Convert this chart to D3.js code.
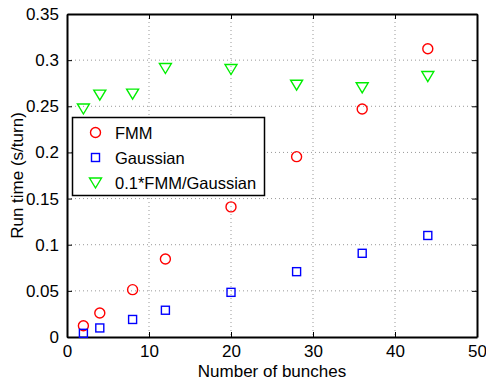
<!DOCTYPE html>
<html>
<head>
<meta charset="utf-8">
<script src="https://cdn.jsdelivr.net/npm/d3@7"></script>
<style>
  body { margin: 0; background: #fff; }
  svg text { font-family: "Liberation Sans", Arial, sans-serif; fill: #000; }
</style>
</head>
<body>
<div id="chart"></div>
<script>
const bunches = [2, 4, 8, 12, 20, 28, 36, 44];
const fmm = [0.0122, 0.026, 0.0513, 0.0845, 0.141, 0.1954, 0.247, 0.3124];
const gaussian = [0.004, 0.0098, 0.019, 0.029, 0.0484, 0.0708, 0.0907, 0.110];
const ratio = [0.2476, 0.2626, 0.2637, 0.2915, 0.2904, 0.2734, 0.2706, 0.2828];
const xTicks = [0, 10, 20, 30, 40, 50];
const yTicks = [0, 0.05, 0.1, 0.15, 0.2, 0.25, 0.3, 0.35];
const seriesNames = ['FMM', 'Gaussian', '0.1*FMM/Gaussian'];

const width = 486, height = 382;
const margin = {top: 14, right: 9, bottom: 45, left: 67};
const w = width - margin.left - margin.right;
const h = height - margin.top - margin.bottom;

const svg = d3.select('#chart').append('svg')
  .attr('width', width)
  .attr('height', height);

const g = svg.append('g')
  .attr('transform', `translate(${margin.left},${margin.top})`);

const x = d3.scaleLinear().domain([0, 50]).range([0, w]);
const y = d3.scaleLinear().domain([0, 0.35]).range([h, 0]);

// grid
g.append('g').selectAll('line')
  .data(xTicks.slice(1, -1))
  .join('line')
    .attr('x1', d => x(d)).attr('x2', d => x(d))
    .attr('y1', 0).attr('y2', h)
    .attr('stroke', '#999').attr('stroke-width', 1)
    .attr('stroke-dasharray', '1,3');
g.append('g').selectAll('line')
  .data(yTicks.slice(1, -1))
  .join('line')
    .attr('y1', d => y(d)).attr('y2', d => y(d))
    .attr('x1', 0).attr('x2', w)
    .attr('stroke', '#999').attr('stroke-width', 1)
    .attr('stroke-dasharray', '1,3');

// axes (inward ticks, box on)
const tickLen = 5;
const xAxis = g.append('g')
  .attr('transform', `translate(0,${h})`)
  .call(d3.axisBottom(x).tickValues(xTicks).tickSizeInner(-tickLen).tickSizeOuter(0).tickPadding(8));
const yAxis = g.append('g')
  .call(d3.axisLeft(y).tickValues(yTicks).tickFormat(d3.format('')).tickSizeInner(-tickLen).tickSizeOuter(0).tickPadding(8));
const xTop = g.append('g')
  .call(d3.axisTop(x).tickValues(xTicks).tickSizeInner(-tickLen).tickSizeOuter(0).tickFormat(''));
const yRight = g.append('g')
  .attr('transform', `translate(${w},0)`)
  .call(d3.axisRight(y).tickValues(yTicks).tickSizeInner(-tickLen).tickSizeOuter(0).tickFormat(''));

[xAxis, yAxis, xTop, yRight].forEach(a => {
  a.select('.domain').attr('stroke', '#000').attr('stroke-width', 2);
  a.selectAll('line').attr('stroke', '#000').attr('stroke-width', 1);
  a.selectAll('text').style('font-size', '17px').attr('fill', '#000');
});

// series
const pts = bunches.map((b, i) => ({b, f: fmm[i], g: gaussian[i], r: ratio[i]}));

g.append('g').selectAll('circle')
  .data(pts)
  .join('circle')
    .attr('cx', d => x(d.b))
    .attr('cy', d => y(d.f))
    .attr('r', 5)
    .attr('fill', 'none')
    .attr('stroke', '#ff0000')
    .attr('stroke-width', 1.4);

g.append('g').selectAll('rect')
  .data(pts)
  .join('rect')
    .attr('x', d => x(d.b) - 4)
    .attr('y', d => y(d.g) - 4)
    .attr('width', 8)
    .attr('height', 8)
    .attr('fill', 'none')
    .attr('stroke', '#0000ff')
    .attr('stroke-width', 1.4);

const tri = 'M-6,-4.5L6,-4.5L0,5.5Z';
g.append('g').selectAll('path')
  .data(pts)
  .join('path')
    .attr('transform', d => `translate(${x(d.b)},${y(d.r)})`)
    .attr('d', tri)
    .attr('fill', 'none')
    .attr('stroke', '#00ee00')
    .attr('stroke-width', 1.4);

// legend
const lg = svg.append('g').attr('transform', 'translate(72.5,117.5)');
lg.append('rect')
  .attr('width', 192).attr('height', 78)
  .attr('fill', '#fff').attr('stroke', '#000').attr('stroke-width', 1.5);
const rows = lg.selectAll('g.row')
  .data(seriesNames)
  .join('g')
    .attr('class', 'row')
    .attr('transform', (d, i) => `translate(23,${15 + i * 25})`);
rows.each(function(d, i) {
  const r = d3.select(this);
  if (i === 0) r.append('circle').attr('r', 5).attr('fill', 'none').attr('stroke', '#ff0000').attr('stroke-width', 1.4);
  if (i === 1) r.append('rect').attr('x', -4).attr('y', -4).attr('width', 8).attr('height', 8).attr('fill', 'none').attr('stroke', '#0000ff').attr('stroke-width', 1.4);
  if (i === 2) r.append('path').attr('d', tri).attr('fill', 'none').attr('stroke', '#00ee00').attr('stroke-width', 1.4);
  r.append('text').attr('x', 19.5).attr('y', 6).style('font-size', '16.5px').text(d);
});

// axis labels
svg.append('text')
  .attr('x', margin.left + w / 2)
  .attr('y', 377)
  .attr('text-anchor', 'middle')
  .style('font-size', '17px')
  .text('Number of bunches');
svg.append('text')
  .attr('transform', `translate(23,${margin.top + h / 2}) rotate(-90)`)
  .attr('text-anchor', 'middle')
  .style('font-size', '17px')
  .text('Run time (s/turn)');
</script>
</body>
</html>
